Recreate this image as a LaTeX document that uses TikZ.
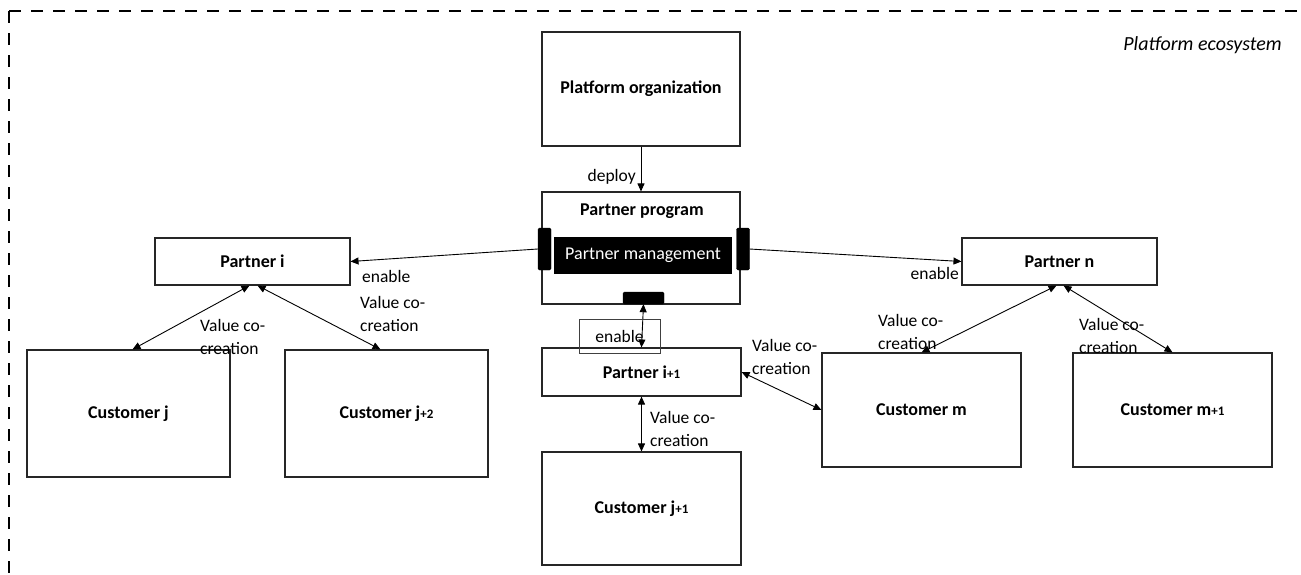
\documentclass[tikz,border=0pt]{standalone}
\usepackage{fontspec}
\setmainfont{Carlito}
\usetikzlibrary{arrows.meta}
\begin{document}
\begin{tikzpicture}[x=1pt,y=-1pt,
  box/.style={draw=black!85, line width=1.1pt, inner sep=0pt, font=\bfseries\fontsize{18}{21}\selectfont},
  tabbox/.style={fill=black, draw=black, rounded corners=1.5pt, inner sep=0pt},
  lbl/.style={font=\fontsize{17.5}{23.5}\selectfont, align=left, inner sep=0pt, anchor=west},
  conn/.style={line width=0.9pt, -{Triangle[length=8pt,width=7pt]}},
  biconn/.style={line width=0.9pt, {Triangle[length=8pt,width=7pt]}-{Triangle[length=8pt,width=7pt]}}]
\useasboundingbox (0,0) rectangle (1301,574);

% ecosystem frame (open towards the right and bottom)
\draw[line width=2pt, dash pattern=on 12pt off 10pt] (9,11) -- (1320,11);
\draw[line width=2pt, dash pattern=on 12pt off 10pt] (9,11) -- (9,590);
\node[font=\itshape\fontsize{20}{24}\selectfont, anchor=east, inner sep=0pt] (eco) at (1282,45) {Platform ecosystem};

% platform side
\node[box, minimum width=198pt, minimum height=114pt] (porg) at (641,89) {Platform organization};
\node[box, minimum width=198pt, minimum height=112pt] (pprog) at (641,248) {};
\node[font=\bfseries\fontsize{18}{21}\selectfont, inner sep=0pt] (ptitle) at (642,211) {Partner program};
\node[fill=black, text=white, inner sep=0pt, minimum width=178pt, minimum height=37pt,
      font=\fontsize{18}{21}\selectfont] (pmgmt) at (643,255.5) {Partner management};
\node[tabbox, minimum width=13pt, minimum height=42pt] (tabL) at (544.5,249) {};
\node[tabbox, minimum width=13pt, minimum height=42pt] (tabR) at (743,249) {};
\node[tabbox, minimum width=41pt, minimum height=12pt] (tabB) at (643.5,298) {};

% partners
\node[box, minimum width=195pt, minimum height=47pt] (pi) at (252.5,261.5) {Partner i};
\node[box, minimum width=195pt, minimum height=47pt] (pn) at (1059.5,261.5) {Partner n};
\node[box, minimum width=199pt, minimum height=48pt] (pi1) at (641.5,372) {Partner i{\fontsize{13}{15}\selectfont +1}};

% customers
\node[box, minimum width=203pt, minimum height=127pt] (cj) at (128.5,413.5) {Customer j};
\node[box, minimum width=203pt, minimum height=127pt] (cj2) at (386.5,413.5) {Customer j{\fontsize{13}{15}\selectfont +2}};
\node[box, minimum width=199pt, minimum height=113pt] (cj1) at (641.5,508.5) {Customer j{\fontsize{13}{15}\selectfont +1}};
\node[box, minimum width=199pt, minimum height=114pt] (cm) at (921.5,410) {Customer m};
\node[box, minimum width=199pt, minimum height=114pt] (cm1) at (1172.5,410) {Customer m{\fontsize{13}{15}\selectfont +1}};

% connectors
\draw[conn] (porg.south) -- (pprog.north);
\node[lbl, anchor=east] (ldeploy) at (636,177) {deploy};

\draw[conn] (tabL.west) -- (pi.east);
\node[lbl] (lenl) at (362,276) {enable};
\draw[conn] (tabR.east) -- (pn.west);
\node[lbl, anchor=east] (lenr) at (959,273) {enable};

\draw[biconn] (tabB.south) -- (pi1.north);
\node[draw=black!75, line width=0.8pt, minimum width=81pt, minimum height=34pt, inner sep=0pt,
      font=\fontsize{17.5}{20}\selectfont] (enbox) at (619.5,336) {enable};

\draw[biconn] (pi1.south) -- (cj1.north);
\node[lbl] (vc1) at (650,429) {Value co-\\creation};
\draw[biconn] (pi1.east) -- (cm.west);
\node[lbl] (vc2) at (752,357) {Value co-\\creation};

\draw[biconn] ([xshift=-3pt]pi.south) -- ([xshift=4pt]cj.north);
\node[lbl] (vc3) at (200,337) {Value co-\\creation};
\draw[biconn] ([xshift=5pt]pi.south) -- ([xshift=-6pt]cj2.north);
\node[lbl] (vc4) at (360,314) {Value co-\\creation};

\draw[biconn] ([xshift=-3pt]pn.south) -- (cm.north);
\node[lbl] (vc5) at (878,332) {Value co-\\creation};
\draw[biconn] ([xshift=4pt]pn.south) -- (cm1.north);
\node[lbl] (vc6) at (1079,336) {Value co-\\creation};
\end{tikzpicture}
\end{document}
